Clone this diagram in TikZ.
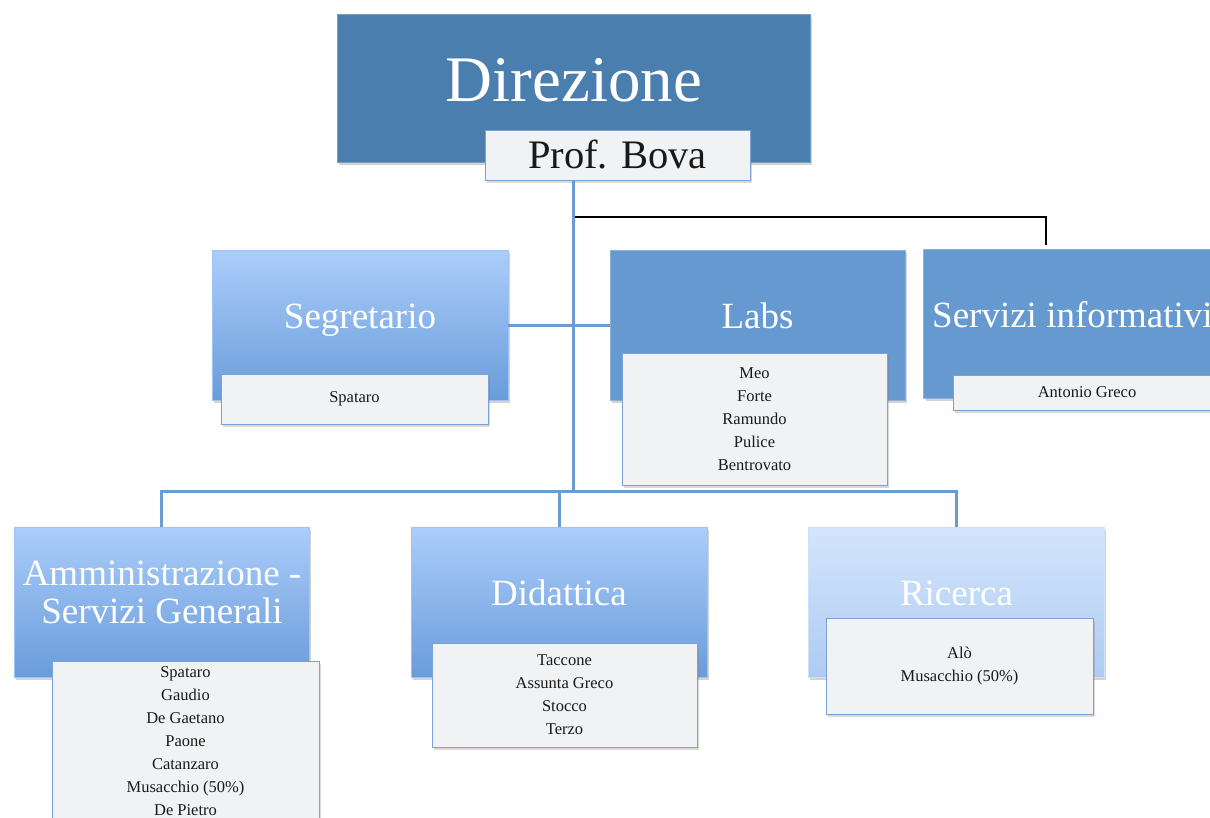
\documentclass[tikz,border=0pt]{standalone}
\usepackage{fontspec}
\setmainfont{Liberation Serif}
\usetikzlibrary{shadows}
\definecolor{dirblue}{HTML}{4A7EAF}
\definecolor{labsblue}{HTML}{6699D0}
\definecolor{gradtop}{HTML}{ABCDFA}
\definecolor{gradbot}{HTML}{6A9CDA}
\definecolor{paletop}{HTML}{D3E5FC}
\definecolor{palebot}{HTML}{AECBF2}
\definecolor{cardfill}{HTML}{F1F2F4}
\definecolor{cardline}{HTML}{7AA3D3}
\definecolor{linkblue}{HTML}{6A9BD1}

\tikzset{
  unit/.style={inner sep=0pt, line width=0.8pt, minimum width=296pt, minimum height=150pt,
    drop shadow={opacity=0.35,shadow xshift=2pt,shadow yshift=-3pt}},
  darkbox/.style={unit, fill=dirblue, draw=dirblue!75!white},
  flatbox/.style={unit, fill=labsblue, draw=labsblue!75!white},
  gradbox/.style={unit, top color=gradtop, bottom color=gradbot, draw=gradtop!80!gradbot},
  palebox/.style={unit, top color=paletop, bottom color=palebot, draw=paletop!80!palebot},
  card/.style={inner sep=0pt, fill=cardfill, draw=cardline, line width=1pt, align=center,
    text=black!90, font=\fontsize{16.5}{23}\selectfont,
    drop shadow={opacity=0.3,shadow xshift=1.5pt,shadow yshift=-2.5pt}},
  title/.style={text=white, inner sep=0pt, font=\fontsize{37}{38}\selectfont, align=center},
  link/.style={draw=linkblue, line width=3pt},
  wire/.style={draw=black, line width=1.6pt}
}

\begin{document}
\begin{tikzpicture}[x=1pt,y=-1pt]
\useasboundingbox (0,0) rectangle (1210,817);
\clip (0,0) rectangle (1210,817);

% connectors
\coordinate (hub) at (573,491);
\coordinate (fork) at (573,217);
\coordinate (tap) at (1046,245);
\draw[wire] (fork) -| (tap);

% top
\node[darkbox, minimum width=473pt, minimum height=148pt] (dir) at (573.5,88) {};
\node[title, anchor=base, font=\fontsize{65}{65}\selectfont] (dirT) at (574,101) {Direzione};
\node[card, minimum width=265pt, minimum height=50pt, font=\fontsize{40.5}{40}\selectfont] (prof) at (617.5,155) {Prof. Bova};
\draw[link] (hub |- prof.south) -- (hub);

% middle row
\node[gradbox] (seg) at (360,325) {};
\node[flatbox, minimum width=295pt] (labs) at (757.5,325) {};
\node[flatbox, minimum width=295pt, minimum height=149pt] (serv) at (1071,323.5) {};
\draw[link] (seg.east) -- (labs.west);
\node[title, anchor=base] (segT) at (360,328) {Segretario};
\node[title, anchor=base] (labsT) at (757.5,328) {Labs};
\node[title, anchor=base west] (servT) at (932,327) {Servizi informativi};
\node[card, minimum width=267pt, minimum height=50pt] (segC) at (354.5,399) {Spataro};
\node[card, minimum width=265pt, minimum height=132pt] (labsC) at (754.5,419)
  {Meo\\Forte\\Ramundo\\Pulice\\Bentrovato};
\node[card, minimum width=268pt, minimum height=35pt] (servC) at (1087,392.5) {Antonio Greco};

% bottom row
\node[gradbox, minimum width=295pt] (amm) at (161.5,602) {};
\node[gradbox] (did) at (559,602) {};
\node[palebox] (ric) at (956,602) {};
\draw[link] (amm.north) |- (hub) -| (ric.north);
\draw[link] (did.north) -- (did.north |- hub);
\node[title, anchor=base] (ammT) at (162,623) {Amministrazione -\\Servizi Generali};
\node[title, anchor=base] (didT) at (559,605) {Didattica};
\node[title, anchor=base] (ricT) at (956.5,605) {Ricerca};
\node[card, minimum width=267pt, minimum height=161pt] (ammC) at (185.5,741.5)
  {Spataro\\Gaudio\\De Gaetano\\Paone\\Catanzaro\\Musacchio (50\%)\\De Pietro};
\node[card, minimum width=265pt, minimum height=104pt] (didC) at (564.5,695)
  {Taccone\\Assunta Greco\\Stocco\\Terzo};
\node[card, minimum width=267pt, minimum height=96pt] (ricC) at (959.5,666)
  {Alò\\Musacchio (50\%)};
\end{tikzpicture}
\end{document}
